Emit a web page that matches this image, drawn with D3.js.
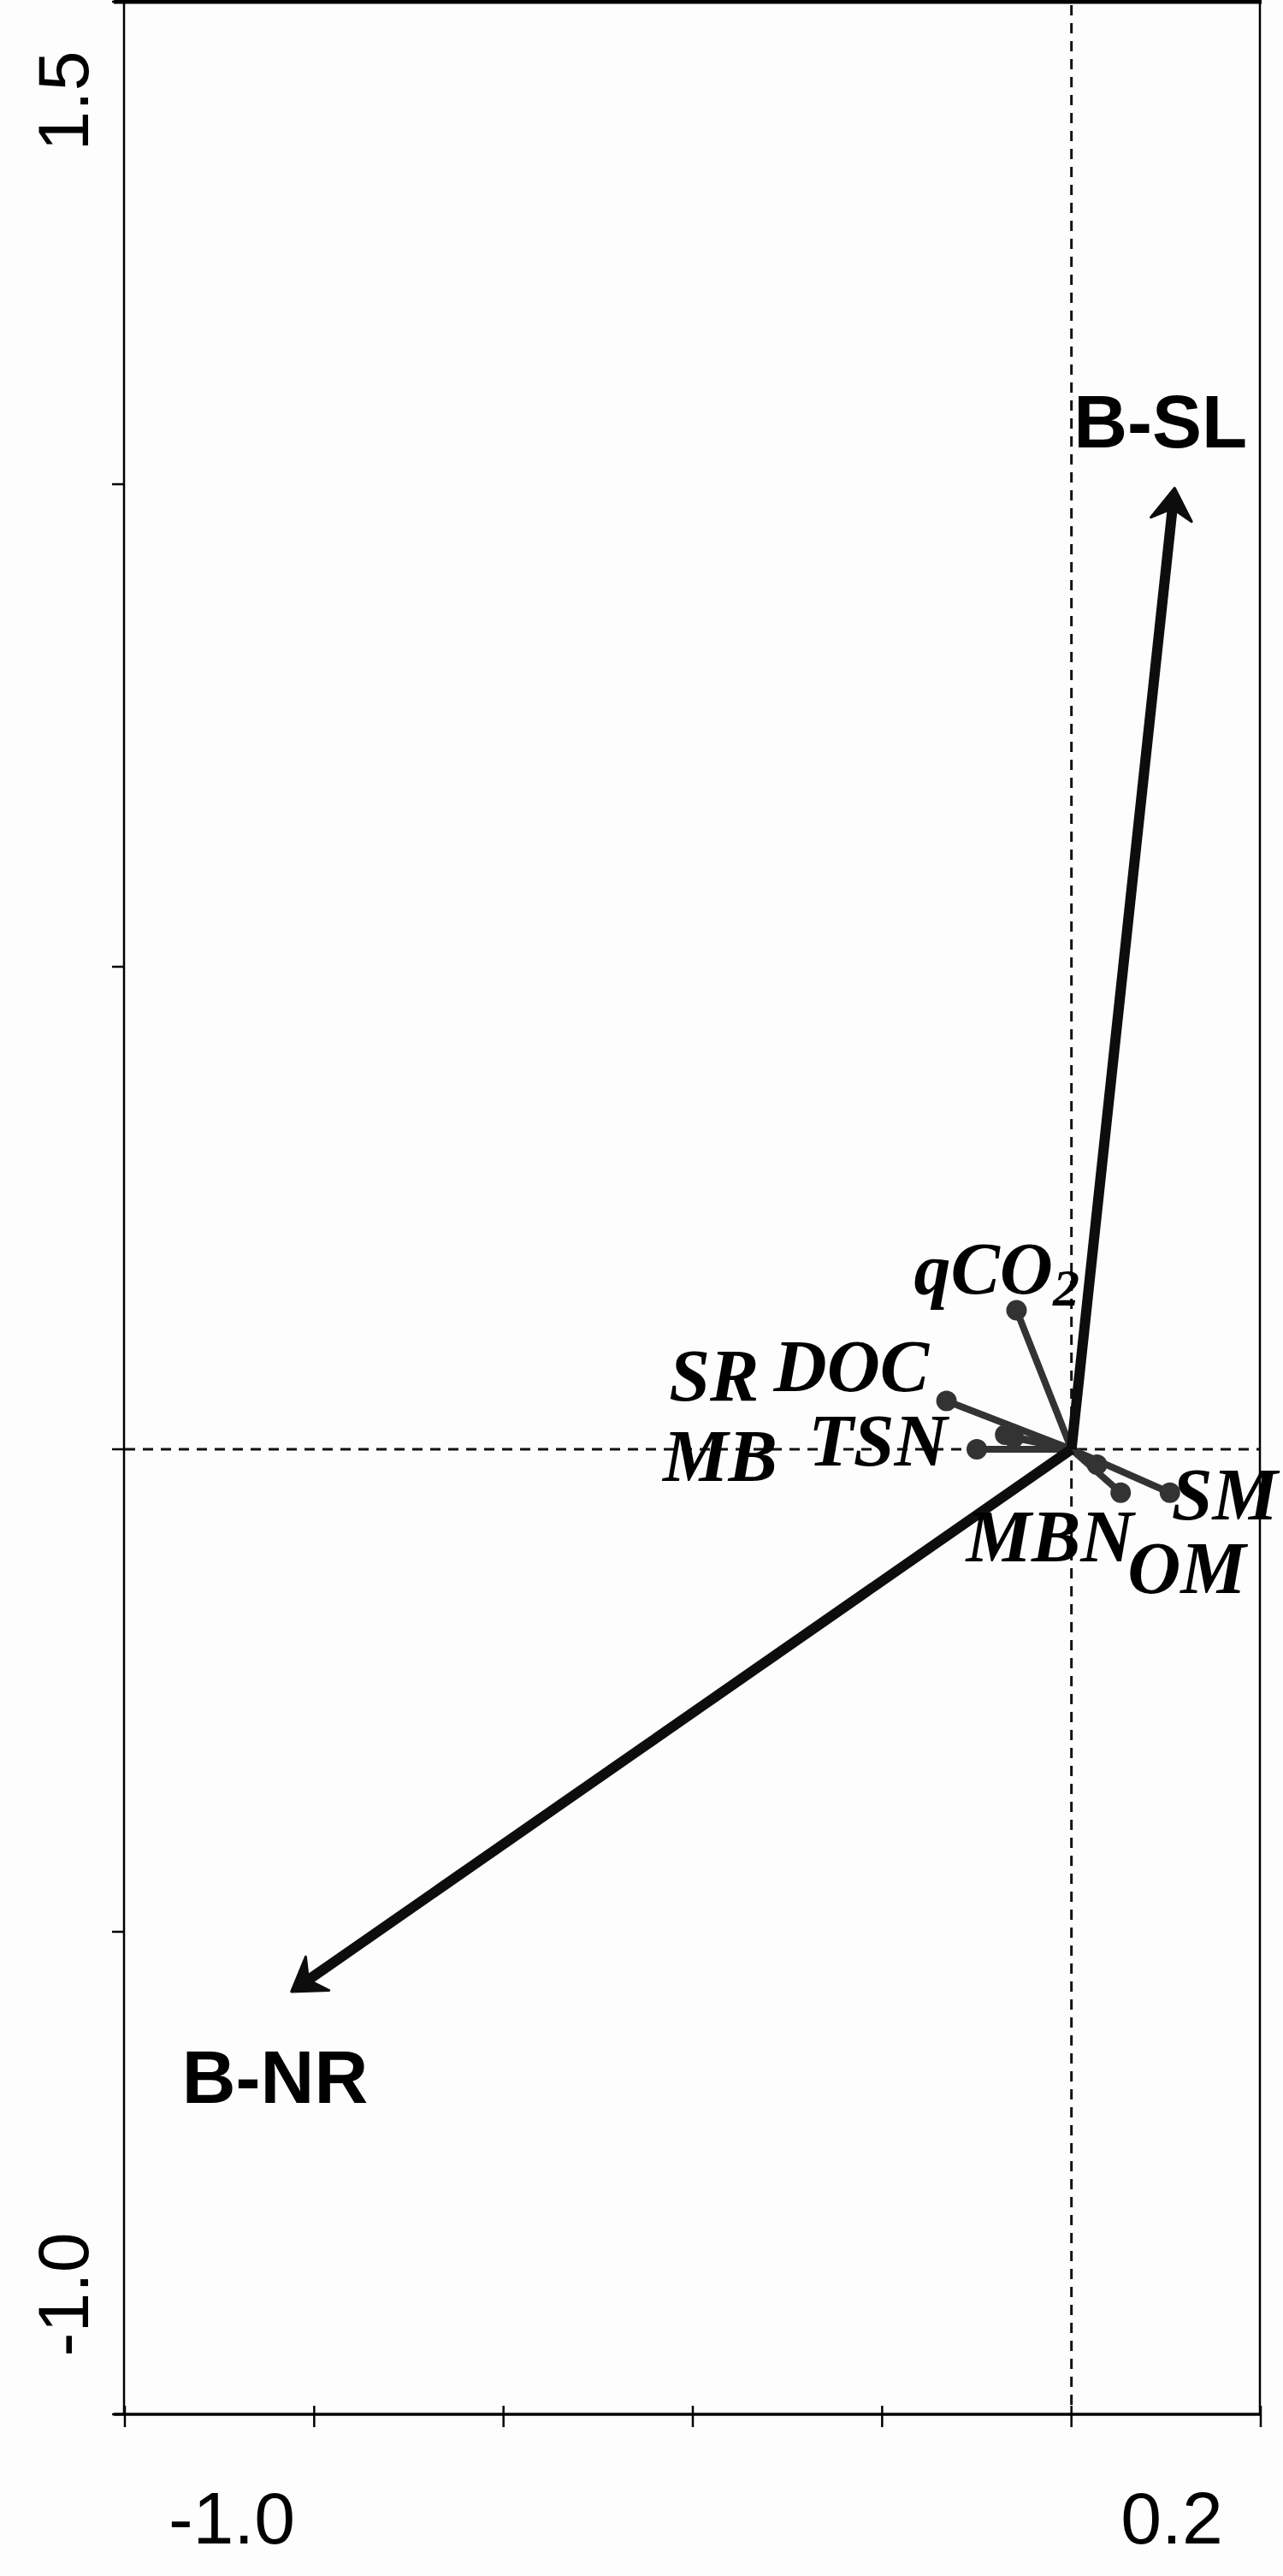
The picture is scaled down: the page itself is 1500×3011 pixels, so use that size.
<!DOCTYPE html>
<html>
<head>
<meta charset="utf-8">
<script src="https://cdn.jsdelivr.net/npm/d3@7"></script>
<style>
  html, body { margin: 0; padding: 0; background: #fdfdfd; }
  svg { display: block; }
  .tick-label { font-family: "Liberation Sans", Arial, sans-serif; fill: #000; }
  .site-label { font-family: "Liberation Sans", Arial, sans-serif; font-weight: bold; fill: #000; }
  .var-label { font-family: "Liberation Serif", "Times New Roman", serif; font-weight: bold; font-style: italic; fill: #000; }
</style>
</head>
<body>
<div id="chart"></div>
<script>
// ordination scores
const siteNames = ['B-SL', 'B-NR'];
const siteX = [0.109, -0.824];
const siteY = [0.996, -0.562];

const varNames = ['qCO2', 'DOC', 'SR', 'TSN', 'MB', 'MBN', 'OM', 'SM'];
const varX = [-0.058, -0.132, -0.070, -0.061, -0.100, 0.027, 0.052, 0.104];
const varY = [0.144, 0.050, 0.015, 0.012, 0.000, -0.016, -0.045, -0.045];

const xTicks = [-1.0, -0.8, -0.6, -0.4, -0.2, 0.0, 0.2];
const yTicks = [-1.0, -0.5, 0.0, 0.5, 1.0, 1.5];
const xTickLabels = [-1.0, 0.2];
const yTickLabels = [1.5, -1.0];

// label placement (pixels from the point)
const varLabelOffset = {
    qCO2: [-120, -20], DOC: [-202, -12], SR: [-393, -40], TSN: [-240, 33],
    MB: [-367, 37], MBN: [-153, 113], OM: [8, 117], SM: [2, 31]
};
const siteLabelPos = { 'B-SL': [-118, -48], 'B-NR': [-128, 130] };

const width = 1500, height = 3011;
const svg = d3.select('#chart').append('svg')
    .attr('width', width)
    .attr('height', height);

const x = d3.scaleLinear().domain([-1.0, 0.2]).range([146, 1474]);
const y = d3.scaleLinear().domain([-1.0, 1.5]).range([2822, 2]);

// zero lines
svg.append('line')
    .attr('x1', x(0)).attr('x2', x(0))
    .attr('y1', y(1.5) + 4).attr('y2', y(-1.0))
    .attr('stroke', '#111').attr('stroke-width', 3)
    .attr('stroke-dasharray', '12,9');
svg.append('line')
    .attr('x1', x(-1.0)).attr('x2', x(0.2))
    .attr('y1', y(0)).attr('y2', y(0))
    .attr('stroke', '#111').attr('stroke-width', 3)
    .attr('stroke-dasharray', '12,9');

// frame
svg.append('line')
    .attr('x1', 133).attr('x2', x(0.2) + 1)
    .attr('y1', 2).attr('y2', 2)
    .attr('stroke', '#000').attr('stroke-width', 5);
svg.append('line')
    .attr('x1', 133).attr('x2', x(0.2) + 1)
    .attr('y1', y(-1.0)).attr('y2', y(-1.0))
    .attr('stroke', '#000').attr('stroke-width', 3.5);
svg.append('line')
    .attr('x1', x(-1.0) - 1).attr('x2', x(-1.0) - 1)
    .attr('y1', 0).attr('y2', y(-1.0))
    .attr('stroke', '#000').attr('stroke-width', 2.5);
svg.append('line')
    .attr('x1', x(0.2) - 1).attr('x2', x(0.2) - 1)
    .attr('y1', 0).attr('y2', y(-1.0))
    .attr('stroke', '#000').attr('stroke-width', 2.5);

// ticks
svg.selectAll('.xtick').data(xTicks).enter().append('line')
    .attr('class', 'xtick')
    .attr('x1', d => x(d)).attr('x2', d => x(d))
    .attr('y1', y(-1.0) - 10).attr('y2', y(-1.0) + 15)
    .attr('stroke', '#000').attr('stroke-width', 2.5);
svg.selectAll('.ytick').data(yTicks).enter().append('line')
    .attr('class', 'ytick')
    .attr('x1', x(-1.0) - 15).attr('x2', x(-1.0))
    .attr('y1', d => y(d)).attr('y2', d => y(d))
    .attr('stroke', '#000').attr('stroke-width', 2.5);

// tick labels (placed as in the original figure)
const xLabelShift = { '-1': 125, '0.2': -104 };
svg.selectAll('.xlab').data(xTickLabels).enter().append('text')
    .attr('class', 'tick-label')
    .attr('x', d => x(d) + xLabelShift[String(d)])
    .attr('y', 2973)
    .attr('text-anchor', 'middle')
    .style('font-size', '86px')
    .text(d => d3.format('.1f')(d).replace('−', '-'));

const yLabelShift = { '1.5': 116, '-1': -140 };
svg.selectAll('.ylab').data(yTickLabels).enter().append('text')
    .attr('class', 'tick-label')
    .attr('transform', d => `translate(103,${y(d) + yLabelShift[String(d)]}) rotate(-90)`)
    .attr('text-anchor', 'middle')
    .style('font-size', '84px')
    .text(d => d3.format('.1f')(d).replace('−', '-'));

// variable vectors
const vars = varNames.map((n, i) => ({ name: n, vx: varX[i], vy: varY[i] }));
const vg = svg.append('g');
vg.selectAll('line').data(vars).enter().append('line')
    .attr('x1', x(0)).attr('y1', y(0))
    .attr('x2', d => x(d.vx)).attr('y2', d => y(d.vy))
    .attr('stroke', '#333').attr('stroke-width', 8);
vg.selectAll('circle').data(vars).enter().append('circle')
    .attr('cx', d => x(d.vx)).attr('cy', d => y(d.vy))
    .attr('r', 12)
    .attr('fill', '#333');

// site arrows
const sites = siteNames.map((n, i) => ({ name: n, sx: siteX[i], sy: siteY[i] }));
const headLen = 44, headAng = 33 * Math.PI / 180, notch = 24;
sites.forEach(s => {
    const x0 = x(0), y0 = y(0), x1 = x(s.sx), y1 = y(s.sy);
    const ang = Math.atan2(y1 - y0, x1 - x0);
    const len = Math.hypot(x1 - x0, y1 - y0);
    svg.append('line')
        .attr('x1', x0).attr('y1', y0)
        .attr('x2', x0 + Math.cos(ang) * (len - 20))
        .attr('y2', y0 + Math.sin(ang) * (len - 20))
        .attr('stroke', '#0d0d0d').attr('stroke-width', 12);
    const w1 = [x1 - headLen * Math.cos(ang - headAng), y1 - headLen * Math.sin(ang - headAng)];
    const w2 = [x1 - headLen * Math.cos(ang + headAng), y1 - headLen * Math.sin(ang + headAng)];
    const nb = [x1 - notch * Math.cos(ang), y1 - notch * Math.sin(ang)];
    svg.append('path')
        .attr('d', d3.line()([w1, [x1, y1], w2, nb]) + 'Z')
        .attr('fill', '#0d0d0d')
        .attr('stroke', '#0d0d0d').attr('stroke-width', 3)
        .attr('stroke-linejoin', 'round');
    svg.append('text')
        .attr('class', 'site-label')
        .attr('x', x1 + siteLabelPos[s.name][0])
        .attr('y', y1 + siteLabelPos[s.name][1])
        .style('font-size', '87px')
        .text(s.name);
});

// variable labels
vars.forEach(d => {
    const off = varLabelOffset[d.name];
    const t = svg.append('text')
        .attr('class', 'var-label')
        .attr('x', x(d.vx) + off[0])
        .attr('y', y(d.vy) + off[1])
        .style('font-size', '86px');
    if (d.name === 'qCO2') {
        t.append('tspan').text('qCO');
        t.append('tspan').attr('dy', 14).style('font-size', '62px').text('2');
    } else {
        t.text(d.name);
    }
});
</script>
</body>
</html>
